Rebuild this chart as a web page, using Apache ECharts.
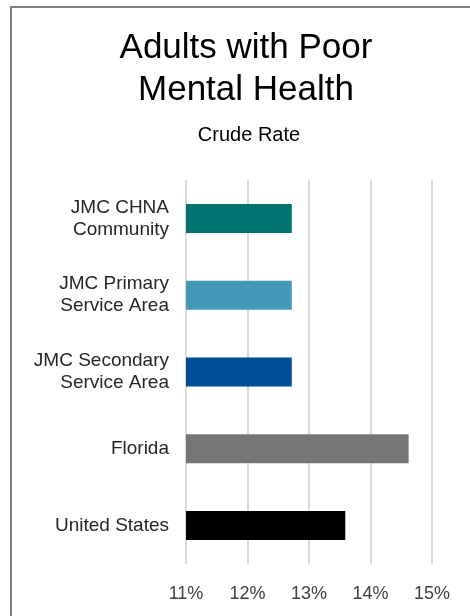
<!DOCTYPE html>
<html>
<head>
<meta charset="utf-8">
<script src="https://cdn.jsdelivr.net/npm/echarts@6/dist/echarts.min.js"></script>
<style>
  html, body { margin: 0; padding: 0; background: #fff; }
  #chart { width: 470px; height: 616px; }
</style>
</head>
<body>
<div id="chart"></div>
<script>
// categories and values (crude rate, %)
const categories = ['JMC CHNA\nCommunity', 'JMC Primary\nService Area', 'JMC Secondary\nService Area', 'Florida', 'United States'];
const rates = [12.72, 12.72, 12.72, 14.62, 13.59];
const barColors = ['#00736f', '#4499b6', '#004c97', '#767676', '#000000'];
const tickValues = [11, 12, 13, 14, 15];

const chart = echarts.init(document.getElementById('chart'));

const option = {
    backgroundColor: '#fff',
    // title block is centred on the original frame, a bit right of the page centre
    graphic: [
        {
            type: 'text',
            x: 246,
            y: 27,
            style: {
                text: 'Adults with Poor\nMental Health',
                fontFamily: 'Liberation Sans',
                fontSize: 35,
                lineHeight: 42,
                fill: '#000',
                align: 'center',
                verticalAlign: 'top'
            }
        },
        {
            type: 'text',
            x: 249,
            y: 124,
            style: {
                text: 'Crude Rate',
                fontFamily: 'Liberation Sans',
                fontSize: 20,
                lineHeight: 22,
                fill: '#000',
                align: 'center',
                verticalAlign: 'top'
            }
        },
        // outer frame, only left and top edges visible
        {
            type: 'polyline',
            shape: { points: [[11, 616], [11, 7], [470, 7]] },
            style: { stroke: '#7f7f7f', lineWidth: 2, fill: null }
        }
    ],
    grid: {
        left: 186,
        right: 38,
        top: 180,
        bottom: 52
    },
    xAxis: {
        type: 'value',
        min: tickValues[0],
        max: tickValues[tickValues.length - 1],
        interval: 1,
        axisLine: { show: false },
        axisTick: { show: false },
        splitLine: { show: true, lineStyle: { color: '#d9d9d9', width: 2 } },
        axisLabel: {
            formatter: '{value}%',
            margin: 21,
            fontFamily: 'Liberation Sans',
            fontSize: 18,
            color: '#404040'
        }
    },
    yAxis: {
        type: 'category',
        inverse: true,
        data: categories,
        axisLine: { show: false },
        axisTick: { show: false },
        axisLabel: {
            margin: 17,
            fontFamily: 'Liberation Sans',
            fontSize: 19,
            lineHeight: 22,
            color: '#262626',
            align: 'right'
        }
    },
    series: [
        {
            type: 'bar',
            barWidth: 29,
            data: rates.map((v, i) => ({ value: v, itemStyle: { color: barColors[i] } })),
            animation: false
        }
    ]
};

chart.setOption(option);
</script>
</body>
</html>
